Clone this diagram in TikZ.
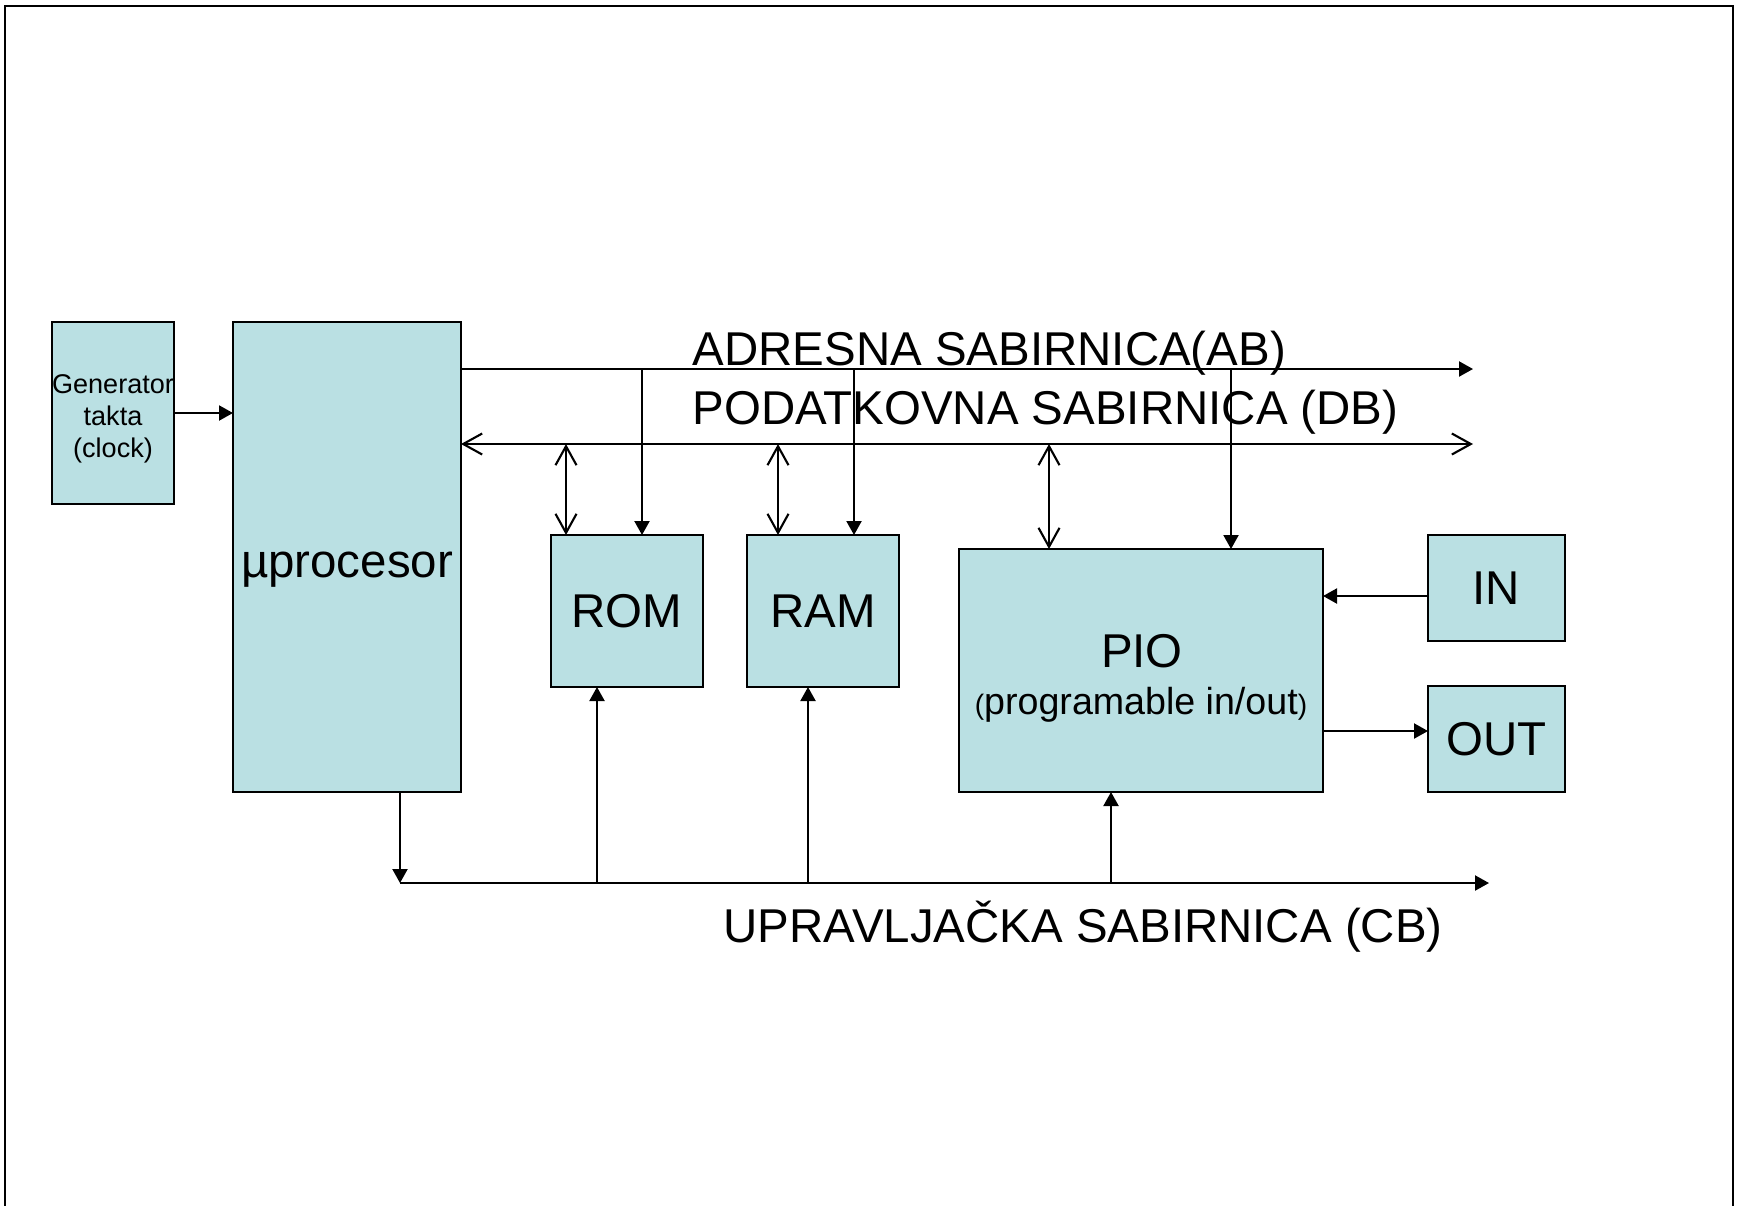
\documentclass[tikz,border=0pt]{standalone}
\usepackage{fontspec}
\setmainfont{Liberation Sans}
\usetikzlibrary{arrows.meta}
\definecolor{blokboja}{RGB}{186,224,227}
\tikzset{
  blok/.style={draw=black, fill=blokboja, line width=0.6pt, inner sep=0pt,
    outer sep=0pt, anchor=north west, font=\fontsize{13.5pt}{16pt}\selectfont},
  natpis/.style={inner sep=0pt, font=\fontsize{13.5pt}{16pt}\selectfont},
  strel/.style={line width=0.6pt, -{Triangle[length=1.4mm,width=1.5mm]}},
  dvostr/.style={line width=0.6pt,
    {Straight Barb[length=1.9mm,width=2.1mm]}-{Straight Barb[length=1.9mm,width=2.1mm]}}
}
\begin{document}
\begin{tikzpicture}[x=0.1mm,y=-0.1mm]
% koordinate u pikselima slike, y raste prema dolje
\useasboundingbox (0,0) rectangle (1743,1205);
\draw[line width=0.7pt] (5,1215) -- (5,6) -- (1733,6) -- (1733,1215);
\node[blok, minimum width=12.2mm, minimum height=18.2mm] (gen) at (52,322) {};
\node[natpis, align=center, font=\fontsize{7.7pt}{9.1pt}\selectfont] (genlbl) at (113,419)
  {Generator\\takta\\(clock)};
\node[blok, minimum width=22.8mm, minimum height=47mm] (cpu) at (233,322) {};
\node[natpis, anchor=base] (cpulbl) at (347,577) {µprocesor};
\node[blok, minimum width=15.2mm, minimum height=15.2mm] (rom) at (551,535) {ROM};
\node[blok, minimum width=15.2mm, minimum height=15.2mm] (ram) at (747,535) {RAM};
\node[blok, minimum width=36.4mm, minimum height=24.3mm] (pio) at (959,549) {};
\node[natpis, anchor=base] (piolbl) at (1142,667) {PIO};
\node[natpis, anchor=base, font=\fontsize{10.7pt}{12pt}\selectfont] (piotxt) at (1141,714)
  {{\fontsize{8pt}{9pt}\selectfont(}programable in/out{\fontsize{8pt}{9pt}\selectfont)}};
\node[blok, minimum width=13.7mm, minimum height=10.6mm] (in) at (1428,535) {IN};
\node[blok, minimum width=13.7mm, minimum height=10.6mm] (out) at (1428,686) {OUT};
% natpisi sabirnica
\node[natpis, anchor=base west] (ablbl) at (692,365) {ADRESNA SABIRNICA(AB)};
\node[natpis, anchor=base west] (dblbl) at (692,424) {PODATKOVNA SABIRNICA (DB)};
\node[natpis, anchor=base west] (cblbl) at (723,942) {UPRAVLJAČKA SABIRNICA (CB)};
% sabirnice
\coordinate (abkraj) at (1473,369);
\coordinate (dbkraj) at (1473,444);
\coordinate (cbpoc) at (400,883);
\coordinate (cbkraj) at (1489,883);
\draw[strel] (gen.east) -- (gen.east -| cpu.west);
\draw[strel] (cpu.east |- abkraj) -- (abkraj);
\draw[dvostr] (cpu.east |- dbkraj) -- (dbkraj);
\draw[strel] (cpu.south -| cbpoc) -- (cbpoc);
\draw[strel] (cbpoc) -- (cbkraj);
% odvodi
\coordinate (romdb) at (566,444);
\coordinate (romab) at (642,369);
\coordinate (romcb) at (597,883);
\coordinate (ramdb) at (778,444);
\coordinate (ramab) at (854,369);
\coordinate (ramcb) at (808,883);
\coordinate (piodb) at (1049,444);
\coordinate (pioab) at (1231,369);
\coordinate (piocb) at (1111,883);
\coordinate (inpio) at (1428,596);
\coordinate (piout) at (1323,731);
\draw[dvostr] (romdb) -- (romdb |- rom.north);
\draw[strel] (romab) -- (romab |- rom.north);
\draw[strel] (romcb) -- (romcb |- rom.south);
\draw[dvostr] (ramdb) -- (ramdb |- ram.north);
\draw[strel] (ramab) -- (ramab |- ram.north);
\draw[strel] (ramcb) -- (ramcb |- ram.south);
\draw[dvostr] (piodb) -- (piodb |- pio.north);
\draw[strel] (pioab) -- (pioab |- pio.north);
\draw[strel] (piocb) -- (piocb |- pio.south);
\draw[strel] (inpio) -- (inpio -| pio.east);
\draw[strel] (piout) -- (piout -| out.west);
\end{tikzpicture}
\end{document}
